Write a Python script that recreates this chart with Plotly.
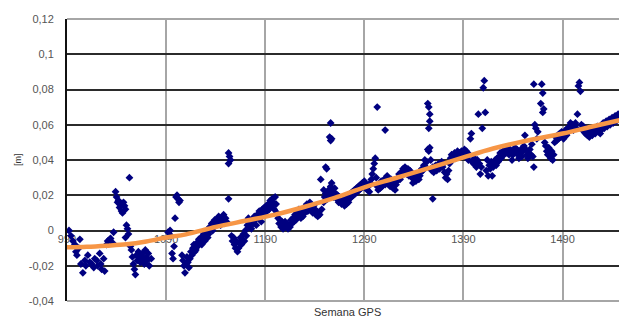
import plotly.graph_objects as go

# --- data -----------------------------------------------------------------
weeks = [
    992, 994, 996, 998, 999, 1000, 1002, 1003, 1004, 1006, 1008, 1009, 1011, 1013, 1015, 1017, 1018, 1020,
    1021, 1023, 1024, 1025, 1027, 1028, 1030, 1031, 1033, 1034, 1036, 1037,
    1039, 1040, 1041, 1042, 1043, 1044, 1045, 1046, 1047, 1048, 1049, 1050, 1051, 1052, 1049, 1053, 1054,
    1055, 1056, 1057, 1058, 1059, 1060, 1061, 1062, 1063, 1064, 1065, 1066, 1067, 1068, 1069, 1070, 1071,
    1072, 1073, 1075,
    1092, 1094, 1095, 1096, 1097, 1098, 1099, 1100, 1101, 1102, 1103, 1104, 1106, 1107, 1108, 1109, 1110,
    1111, 1112, 1113, 1114, 1115, 1116, 1117, 1118, 1119, 1120, 1121, 1122, 1123, 1124, 1125, 1126, 1127,
    1128, 1129, 1130, 1131, 1132, 1133, 1134, 1135, 1136, 1137, 1138, 1139, 1140, 1141, 1142, 1143, 1144,
    1145, 1146, 1147, 1148, 1149, 1150, 1151,
    1153, 1154, 1155, 1153, 1153,
    1156, 1157, 1158, 1159, 1160, 1161, 1162, 1163, 1164, 1165, 1166, 1167, 1168, 1169, 1170, 1171, 1172,
    1173, 1174, 1175, 1176, 1177, 1178, 1179, 1180, 1181, 1182, 1183, 1184, 1185, 1186, 1187, 1188, 1189,
    1190, 1191, 1192, 1193, 1194, 1195, 1196, 1197, 1198, 1199, 1200, 1201, 1202, 1203, 1204, 1205, 1206,
    1207, 1208, 1209, 1210, 1211, 1212, 1213, 1214, 1215, 1216, 1217, 1218, 1219, 1220, 1221, 1222, 1223,
    1224, 1225, 1226, 1227, 1228, 1229, 1230, 1231, 1232, 1233, 1234, 1235, 1236, 1237, 1238, 1239, 1240,
    1241, 1242, 1243, 1244, 1245,
    1246, 1249, 1252, 1251, 1256, 1255, 1256, 1257,
    1247, 1249, 1250, 1251, 1253, 1254, 1255, 1256, 1257, 1258, 1259, 1260, 1261, 1262, 1263, 1264, 1265,
    1266, 1267, 1268, 1269, 1270, 1271, 1272, 1273, 1274, 1275, 1276, 1277, 1278, 1279, 1280, 1281, 1282,
    1283, 1284, 1285, 1286, 1287, 1288, 1289, 1290, 1291, 1292, 1293, 1294, 1295, 1296, 1297, 1298, 1299,
    1300, 1301, 1302, 1303, 1303, 1304, 1305, 1306, 1307, 1308, 1309, 1310, 1311, 1311, 1312, 1313, 1314,
    1315, 1316, 1317, 1318, 1319, 1320, 1321, 1322, 1323, 1324, 1325, 1326, 1327, 1328, 1329, 1330, 1331,
    1332, 1333, 1334, 1335, 1336, 1337, 1338, 1339, 1340, 1341, 1342, 1343, 1344, 1345, 1346, 1347, 1348,
    1349, 1350, 1351, 1352, 1353,
    1354, 1355, 1356, 1356, 1355, 1354,
    1355, 1356, 1357, 1358, 1359, 1359, 1360, 1361, 1362, 1363, 1364, 1365, 1366, 1367, 1368, 1369, 1370,
    1371, 1372, 1373, 1374, 1375, 1376, 1377, 1378, 1379, 1380, 1381, 1382, 1383, 1384, 1385, 1386, 1387,
    1388, 1389, 1390, 1391, 1392, 1393, 1394, 1395, 1396, 1397, 1398, 1399, 1400, 1401, 1402, 1403, 1404,
    1405, 1406, 1407, 1408, 1409, 1410, 1411, 1412, 1413, 1414, 1415, 1416, 1417, 1418, 1419, 1420, 1421,
    1422, 1423, 1424, 1425, 1426, 1427, 1428, 1429, 1430, 1431, 1432, 1433, 1434, 1435, 1436, 1437, 1438,
    1439, 1440, 1441, 1442, 1443, 1444, 1445, 1446, 1447, 1448, 1449, 1450, 1451, 1452, 1453, 1454, 1455,
    1456, 1457, 1458, 1459, 1460, 1461, 1461, 1462, 1463, 1464, 1465, 1469, 1470, 1468, 1471, 1470,
    1472, 1473, 1474, 1475, 1476, 1477, 1478, 1479, 1480, 1481, 1482, 1483, 1484, 1485, 1486, 1487, 1488,
    1489, 1490, 1491, 1492, 1493, 1494, 1495, 1496, 1497, 1498, 1499, 1500, 1501, 1502, 1503, 1504, 1505,
    1506, 1507, 1508, 1509, 1510, 1511, 1512, 1513, 1514, 1515, 1516, 1517, 1518, 1519, 1520, 1521, 1522,
    1523, 1524, 1525, 1526, 1527, 1528, 1529, 1530, 1531, 1532, 1533, 1534, 1535, 1536, 1537, 1538, 1539,
    1540, 1541, 1542, 1543, 1544, 1545, 1546, 1547, 1548, 1549, 1550, 1551, 1552, 1553, 1554, 1555, 1554,
]

displacement = [
    0.000, -0.003, -0.006, -0.008, -0.012, -0.014, -0.010, -0.005, -0.019, -0.024, -0.017, -0.020, -0.014, -0.018, -0.019, -0.021, -0.016, -0.017,
    -0.020, -0.013, -0.019, -0.022, -0.016, -0.023, -0.008, -0.006, -0.005, -0.0045, -0.007, -0.001,
    0.022, 0.019, 0.016, 0.017, 0.013, 0.015, 0.011, 0.010, 0.016, 0.014, 0.012, 0.003, 0.001, -0.002, -0.004, 0.030, -0.009,
    -0.011, -0.015, -0.019, -0.022, -0.025, -0.014, -0.017, -0.012, -0.016, -0.018, -0.014, -0.013, -0.016, -0.019, -0.011, -0.015, -0.017,
    -0.013, -0.020, -0.016,
    -0.001, 0.000, -0.003, -0.013, -0.016, -0.009, 0.007, 0.019, 0.020, 0.018, 0.016, 0.017, -0.014, -0.017, -0.020, -0.024, -0.019,
    -0.015, -0.018, -0.021, -0.016, -0.012, -0.014, -0.010, -0.008, -0.012, -0.011, -0.007, -0.009, -0.005, -0.006, -0.004, -0.008, -0.005,
    -0.002, -0.006, -0.003, 0.000, -0.004, -0.002, 0.002, 0.001, 0.004, 0.000, 0.003, 0.006, 0.004, 0.006, 0.005, 0.008, 0.005,
    0.003, 0.007, 0.006, 0.009, 0.004, 0.007, 0.005,
    0.044, 0.042, 0.040, 0.038, 0.018,
    -0.003, -0.006, -0.004, -0.008, -0.010, -0.006, -0.012, -0.010, -0.007, -0.004, -0.008, -0.005, -0.002, -0.006, 0.000, -0.003, 0.003,
    0.007, 0.002, 0.005, 0.001, 0.006, 0.004, 0.008, 0.006, 0.003, 0.009, 0.007, 0.011, 0.008, 0.005, 0.012, 0.010, 0.013,
    0.009, 0.014, 0.011, 0.015, 0.012, 0.017, 0.014, 0.018, 0.016, 0.012, 0.019, 0.015, 0.010, 0.007, 0.004, 0.006, 0.002,
    0.005, 0.001, 0.003, 0.005, 0.002, 0.004, 0.001, 0.003, 0.002, 0.006, 0.004, 0.007, 0.005, 0.009, 0.006, 0.010, 0.008,
    0.012, 0.009, 0.007, 0.011, 0.008, 0.013, 0.010, 0.012, 0.015, 0.011, 0.013, 0.016, 0.012, 0.014, 0.010, 0.014, 0.012,
    0.009, 0.011, 0.008, 0.010, 0.009,
    0.029, 0.023, 0.035, 0.036, 0.061, 0.053, 0.051, 0.052,
    0.012, 0.016, 0.019, 0.021, 0.018, 0.023, 0.020, 0.025, 0.027, 0.022, 0.019, 0.024, 0.021, 0.018, 0.020, 0.016, 0.019,
    0.017, 0.015, 0.018, 0.016, 0.014, 0.017, 0.015, 0.019, 0.016, 0.018, 0.021, 0.019, 0.022, 0.020, 0.023, 0.021, 0.024,
    0.022, 0.025, 0.023, 0.026, 0.024, 0.027, 0.025, 0.028, 0.024, 0.026, 0.023, 0.025, 0.022, 0.027, 0.029, 0.032, 0.035,
    0.038, 0.041, 0.030, 0.070, 0.025, 0.023, 0.026, 0.024, 0.028, 0.025, 0.027, 0.029, 0.057, 0.026, 0.030, 0.031, 0.028,
    0.027, 0.025, 0.029, 0.026, 0.024, 0.027, 0.023, 0.026, 0.028, 0.030, 0.032, 0.029, 0.033, 0.031, 0.035, 0.033, 0.036,
    0.034, 0.032, 0.035, 0.031, 0.034, 0.032, 0.030, 0.027, 0.029, 0.031, 0.028, 0.030, 0.032, 0.029, 0.031, 0.033, 0.035,
    0.034, 0.037, 0.040, 0.036, 0.039,
    0.046, 0.058, 0.062, 0.066, 0.070, 0.072,
    0.045, 0.047, 0.040, 0.034, 0.018, 0.036, 0.033, 0.035, 0.037, 0.034, 0.036, 0.038, 0.035, 0.037, 0.039, 0.036, 0.038,
    0.033, 0.030, 0.032, 0.029, 0.034, 0.038, 0.041, 0.043, 0.040, 0.042, 0.044, 0.041, 0.043, 0.045, 0.042, 0.044, 0.043,
    0.045, 0.042, 0.044, 0.046, 0.043, 0.045, 0.042, 0.040, 0.043, 0.052, 0.055, 0.039, 0.038, 0.041, 0.039, 0.036, 0.040,
    0.066, 0.038, 0.032, 0.036, 0.058, 0.081, 0.085, 0.067, 0.034, 0.040, 0.031, 0.037, 0.035, 0.039, 0.031, 0.036, 0.038,
    0.040, 0.037, 0.041, 0.039, 0.042, 0.044, 0.041, 0.043, 0.045, 0.043, 0.046, 0.044, 0.047, 0.045, 0.043, 0.046, 0.044,
    0.040, 0.043, 0.045, 0.047, 0.044, 0.046, 0.043, 0.041, 0.044, 0.046, 0.042, 0.045, 0.048, 0.054, 0.046, 0.043, 0.041,
    0.044, 0.046, 0.043, 0.049, 0.042, 0.036, 0.083, 0.060, 0.058, 0.052, 0.056, 0.083, 0.078, 0.072, 0.069, 0.067,
    0.050, 0.048, 0.045, 0.043, 0.047, 0.044, 0.041, 0.045, 0.040, 0.043, 0.050, 0.053, 0.051, 0.054, 0.052, 0.055, 0.053,
    0.056, 0.054, 0.052, 0.055, 0.057, 0.054, 0.058, 0.056, 0.059, 0.061, 0.058, 0.060, 0.057, 0.059, 0.061, 0.058, 0.066,
    0.082, 0.084, 0.079, 0.060, 0.057, 0.059, 0.056, 0.055, 0.058, 0.054, 0.056, 0.053, 0.055, 0.057, 0.054, 0.056, 0.058,
    0.055, 0.057, 0.059, 0.056, 0.058, 0.055, 0.057, 0.059, 0.061, 0.058, 0.060, 0.062, 0.059, 0.061, 0.063, 0.060, 0.062,
    0.064, 0.061, 0.063, 0.065, 0.062, 0.064, 0.066, 0.063, 0.065, 0.067, 0.064, 0.066, 0.068, 0.065, 0.068, 0.070, 0.077,
]

trend_weeks = [990, 1010, 1030, 1050, 1070, 1090, 1110, 1140, 1170, 1200, 1230, 1260, 1290,
               1320, 1350, 1390, 1420, 1450, 1490, 1520, 1555]
trend_values = [-0.0095, -0.0092, -0.0086, -0.0078, -0.0062, -0.004, -0.0022, 0.002, 0.0055, 0.009,
                0.0135, 0.0185, 0.0245, 0.0295, 0.0345, 0.0415, 0.0465, 0.0505, 0.055, 0.059, 0.0635]

x_ticks = [990, 1090, 1190, 1290, 1390, 1490]
x_tick_labels = ["990", "1090", "1190", "1290", "1390", "1490"]
y_ticks = [-0.04, -0.02, 0, 0.02, 0.04, 0.06, 0.08, 0.1, 0.12]
y_tick_labels = ["-0,04", "-0,02", "0", "0,02", "0,04", "0,06", "0,08", "0,1", "0,12"]

x_title = "Semana GPS"
y_title = "[m]"

# --- figure ----------------------------------------------------------------
fig = go.Figure()
fig.add_trace(go.Scatter(
    x=weeks, y=displacement, mode="markers",
    marker=dict(symbol="diamond", size=6, color="#000080", line=dict(width=0)),
    showlegend=False, hoverinfo="skip"))
fig.add_trace(go.Scatter(
    x=trend_weeks, y=trend_values, mode="lines",
    line=dict(color="#F79646", width=4.5, shape="spline", smoothing=1.0),
    showlegend=False, hoverinfo="skip"))

# the page shows the figure with the browser's default 8px body offset
font_family = "Liberation Sans, Arial, sans-serif"
fig.update_layout(
    width=619, height=316,
    margin=dict(l=59, r=0, t=11, b=23),
    paper_bgcolor="white", plot_bgcolor="white",
    font=dict(family=font_family, size=11, color="#444444"),
    xaxis=dict(
        range=[990, 1555], tickvals=x_ticks, ticktext=x_tick_labels,
        showgrid=True, gridcolor="#a6a6a6", gridwidth=1.5,
        zeroline=False, showline=False, ticks="", automargin=False,
        anchor="free", position=0.25, layer="below traces",
        tickfont=dict(size=11, color="#555555"),
    ),
    yaxis=dict(
        range=[-0.04, 0.12], tickvals=y_ticks, ticktext=y_tick_labels,
        showgrid=True, gridcolor="#2b2b2b", gridwidth=1.5,
        zeroline=False, showline=True, linecolor="#111111", linewidth=2,
        ticks="", ticklabelstandoff=9, automargin=False,
        tickfont=dict(size=11, color="#555555"),
    ),
    shapes=[
        dict(type="line", xref="paper", yref="paper", x0=0, x1=1, y0=1, y1=1,
             line=dict(color="#a6a6a6", width=2)),
        dict(type="line", xref="paper", yref="paper", x0=0, x1=1, y0=0, y1=0,
             line=dict(color="#a6a6a6", width=2)),
    ],
    annotations=[
        dict(text=x_title, xref="paper", yref="paper", x=0.5, y=-0.039,
             xanchor="center", yanchor="middle", showarrow=False,
             font=dict(size=11, color="#333333")),
        dict(text=y_title, xref="paper", yref="paper", x=-0.0875, y=0.5,
             xanchor="center", yanchor="middle", showarrow=False, textangle=-90,
             font=dict(size=9, color="#333333")),
    ],
)

fig.write_html("out.html")
